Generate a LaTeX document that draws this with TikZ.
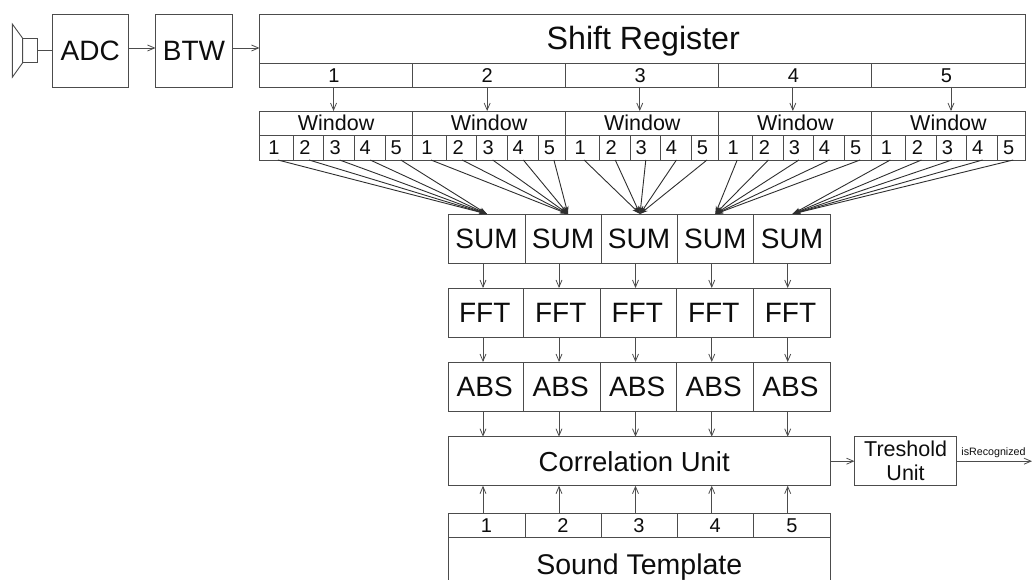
\documentclass[tikz,border=0pt]{standalone}
\usepackage{fontspec}
\setmainfont{Liberation Sans}
\usetikzlibrary{arrows.meta}
\definecolor{ln}{gray}{0.3}
\definecolor{fan}{gray}{0.18}
\definecolor{tx}{gray}{0.05}
\tikzset{
  x=1pt,y=-1pt,
  box/.style={draw=ln,line width=0.9pt,inner sep=0pt,outer sep=0pt,text=tx,anchor=center},
  big/.style={font=\fontsize{28}{30}\selectfont,text height=20pt,text depth=0pt},
  corrf/.style={font=\fontsize{27.5}{30}\selectfont,text height=20pt,text depth=0pt},
  tmplf/.style={font=\fontsize{28.5}{30}\selectfont,text height=20.5pt,text depth=0pt},
  shiftf/.style={font=\fontsize{32.2}{34}\selectfont,text height=23pt,text depth=0pt},
  mid/.style={font=\fontsize{21.5}{24}\selectfont,text height=15.5pt,text depth=0pt},
  twoline/.style={font=\fontsize{21.5}{24}\selectfont,align=center},
  dig/.style={font=\fontsize{20}{22}\selectfont,text height=14.5pt,text depth=0pt},
  conn/.style={draw=ln,line width=0.9pt,-{Straight Barb[length=7pt,width=6pt,line width=0.8pt]}},
  fanconn/.style={draw=fan,line width=0.9pt,-{Stealth[length=8pt,width=5pt]}},
  plain/.style={draw=ln,line width=0.9pt},
  tiny/.style={font=\fontsize{10.7}{12}\selectfont,text=tx,inner sep=0pt},
}
% name, x1, y1, x2, y2, style, text
\newcommand{\bx}[7]{%
  \pgfmathsetmacro{\bw}{#4-#2}\pgfmathsetmacro{\bh}{#5-#3}%
  \pgfmathsetmacro{\bcx}{(#2+#4)/2}\pgfmathsetmacro{\bcy}{(#3+#5)/2}%
  \node[box,#6,minimum width=\bw pt,minimum height=\bh pt] (#1) at (\bcx,\bcy) {#7};}
\begin{document}
\begin{tikzpicture}
\useasboundingbox (0,0) rectangle (1032,580);
% speaker
\coordinate (spk) at (37.7,50);
\draw[plain,line join=miter] (22.7,38.3) -- (12.3,24) -- (12.3,77.3) -- (22.7,62.7) -- cycle;
\draw[plain] (22.7,38.3) rectangle (37.7,62.7);
% top row
\bx{adc}{52}{14}{128.5}{87}{big}{ADC}
\bx{btw}{155.5}{14}{232.5}{87}{big}{BTW}
\bx{sr}{259.5}{14}{1025}{63}{shiftf}{\hspace*{2pt}Shift Register}
\draw[plain] (spk) -- (spk -| adc.west);
\draw[conn] ([yshift=2.5pt]adc.east) -- ([yshift=2.5pt]btw.west);
\draw[conn] ([yshift=2.5pt]btw.east) -- ([yshift=-9.5pt]sr.west);
% shift register cells and windows
\foreach \k/\s/\a in {1/0/-2.5,2/153.1/-2,3/306.2/-2.5,4/459.3/-2.5,5/612.4/2.5}{
  \pgfmathsetmacro{\xa}{259.5+\s}\pgfmathsetmacro{\xb}{259.5+\s+153.1}
  \bx{c\k}{\xa}{63}{\xb}{87}{dig}{\k\hspace*{4pt}}
  \bx{w\k}{\xa}{111}{\xb}{135}{mid}{Window}
  \draw[conn] ([xshift=\a pt]c\k.south) -- ([xshift=\a pt]w\k.north);
  \pgfmathsetmacro{\pa}{\xa+33.8}\pgfmathsetmacro{\pb}{\xa+64.3}
  \pgfmathsetmacro{\pc}{\xa+94.9}\pgfmathsetmacro{\pd}{\xa+125.5}
  \bx{w\k n1}{\xa}{135}{\pa}{160}{dig}{1\hspace*{5pt}}
  \bx{w\k n2}{\pa}{135}{\pb}{160}{dig}{2\hspace*{7pt}}
  \bx{w\k n3}{\pb}{135}{\pc}{160}{dig}{3\hspace*{8pt}}
  \bx{w\k n4}{\pc}{135}{\pd}{160}{dig}{4\hspace*{9pt}}
  \bx{w\k n5}{\pd}{135}{\xb}{160}{dig}{5\hspace*{5pt}}
}
% column rows
\foreach \i/\xa/\xb in {1/448/525,2/525/601,3/601/677,4/677/753.5,5/753.5/830.5}{
  \bx{sum\i}{\xa}{214}{\xb}{263}{big}{SUM}
  \bx{t\i}{\xa}{513}{\xb}{537.7}{dig}{\i}
}
\foreach \i/\xa/\xb in {1/448/523.5,2/523.5/600,3/600/676.5,4/676.5/753,5/753/830}{
  \bx{fft\i}{\xa}{288}{\xb}{337}{big}{FFT\hspace*{2pt}}
  \bx{abs\i}{\xa}{362}{\xb}{411}{big}{ABS\hspace*{2pt}}
}
\bx{corr}{448}{436.7}{830.5}{485.7}{corrf}{Correlation Unit\hspace*{10pt}}
\bx{tmpl}{448}{537.7}{830.5}{591.3}{tmplf}{Sound Template}
\bx{thr}{854.5}{436.7}{956.7}{485.7}{twoline}{Treshold\\Unit}
% window outputs to SUM
\foreach \k/\tip in {1/0.5,2/5,3/1,4/0,5/0.5}{
  \foreach \i/\off in {1/1.5,2/0.5,3/0.5,4/0.5,5/2}{
    \draw[fanconn] ([xshift=\off pt]w\k n\i.south) -- ([xshift=\tip pt]sum\k.north);
  }
}
% vertical connectors
\foreach \i/\o in {1/-3.5,2/-4,3/-3.5,4/-3.5,5/-4.3}{
  \draw[conn] ([xshift=\o pt]sum\i.south) -- ([xshift=\o pt]sum\i.south |- fft\i.north);
  \draw[conn] ([xshift=\o pt]sum\i.south |- fft\i.south) -- ([xshift=\o pt]sum\i.south |- abs\i.north);
  \draw[conn] ([xshift=\o pt]sum\i.south |- abs\i.south) -- ([xshift=\o pt]sum\i.south |- corr.north);
  \draw[conn] ([xshift=\o pt]t\i.north) -- ([xshift=\o pt]t\i.north |- corr.south);
}
% outputs
\coordinate (out) at (1032,461.2);
\draw[conn] (corr.east) -- (thr.west);
\draw[conn] (thr.east) -- (out);
\node[tiny] (rec) at (993.5,452.5) {isRecognized};
\end{tikzpicture}
\end{document}
